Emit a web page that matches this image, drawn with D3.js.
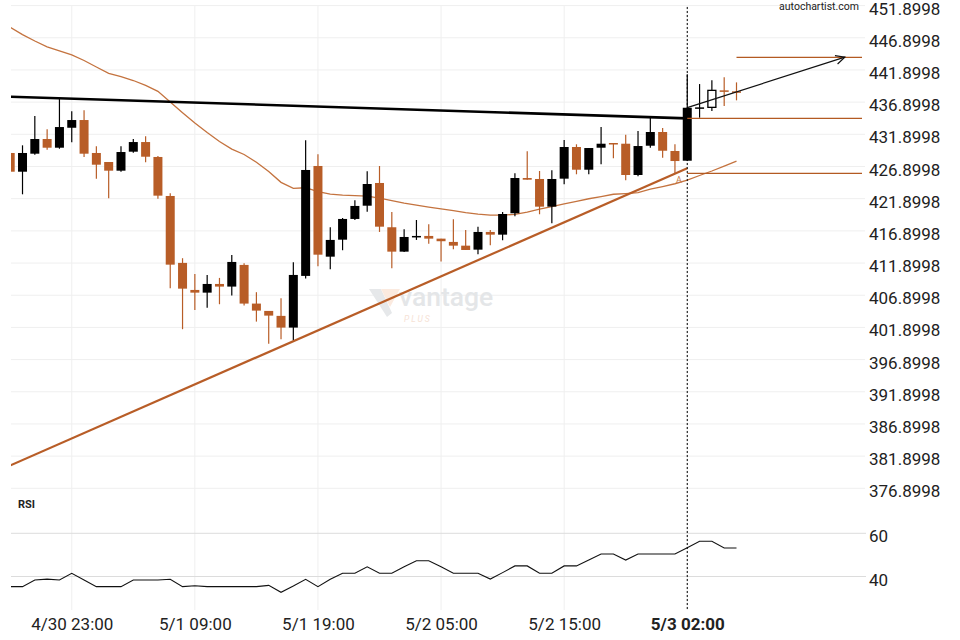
<!DOCTYPE html>
<html><head><meta charset="utf-8">
<script src="https://cdn.jsdelivr.net/npm/d3@7"></script>
<style>
html,body{margin:0;padding:0;background:#fff;}
svg{display:block;font-family:Roboto,"Noto Sans",sans-serif;}
</style></head><body>
<svg id="chart" width="960" height="640"></svg>
<script>
// ---- data (hourly candles, index 0..59) ----
const openP  = [429.00,426.09,428.89,431.17,429.82,432.92,434.12,429.00,427.60,426.25,
                429.20,430.70,428.38,422.32,411.92,407.72,407.30,408.65,408.24,411.61,
                405.60,404.46,403.69,401.87,409.90,426.98,412.89,415.53,418.75,420.81,
                424.34,417.46,413.67,415.95,416.11,415.69,415.18,414.60,413.98,416.73,
                416.31,419.63,425.11,424.96,420.66,425.01,429.93,426.40,429.82,430.55,
                430.44,425.58,430.13,432.26,429.31,427.80,436.03,436.09,438.73,438.58];
const highP  = [429.50,430.19,434.74,432.68,437.38,435.47,435.63,430.04,427.60,430.04,
                431.17,431.59,428.53,422.74,412.65,410.21,410.05,409.59,413.16,411.87,
                407.37,404.46,406.43,412.02,430.97,428.79,417.46,418.90,421.65,426.15,
                426.98,419.83,417.15,418.59,417.92,415.69,418.70,417.04,417.55,417.04,
                419.83,425.84,429.26,426.20,426.31,431.01,430.35,429.77,433.03,430.55,
                431.84,432.41,434.59,432.88,430.35,441.22,439.71,440.29,440.75,439.97];
const lowP   = [425.70,422.58,428.73,429.51,429.66,430.66,428.38,425.01,421.96,426.09,
                429.04,427.55,421.90,407.99,401.62,404.62,404.97,405.50,406.84,405.29,
                402.80,399.34,400.07,399.85,409.48,411.40,410.94,413.89,418.59,419.88,
                416.73,411.09,413.62,415.49,414.91,412.12,414.04,413.93,413.27,414.66,
                415.44,419.17,424.85,419.48,418.08,424.14,425.69,425.69,427.24,428.17,
                424.76,425.38,429.82,428.27,425.89,427.80,434.48,435.52,436.29,437.18];
const closeP = [426.09,429.00,431.17,429.82,433.03,434.12,428.89,427.18,426.25,429.15,
                430.70,428.42,422.37,411.65,407.92,407.30,408.65,408.24,412.07,405.60,
                404.51,403.73,401.87,410.05,426.36,413.20,415.49,418.75,420.77,424.18,
                417.55,413.67,415.95,416.11,415.69,415.29,414.60,413.93,416.73,416.31,
                419.52,425.11,424.85,420.66,424.96,429.93,426.40,429.77,430.44,430.39,
                425.58,430.08,432.26,429.35,427.75,436.03,436.09,438.73,438.51,438.47];
const maValues = [448.53,447.40,446.40,445.50,444.85,444.23,443.37,442.36,441.38,440.85,
                  440.26,439.49,438.58,436.92,435.26,433.66,432.18,430.78,429.61,428.76,
                  427.56,426.12,424.44,423.51,423.60,423.01,422.62,422.46,422.39,422.31,
                  422.00,421.61,421.22,420.91,420.60,420.33,420.05,419.74,419.51,419.36,
                  419.36,419.46,419.82,420.29,420.68,421.10,421.48,421.89,422.23,422.59,
                  422.70,422.85,423.37,423.79,424.22,424.80,425.50,426.20,426.97,427.75];
const rsiValues = [35.3,35.3,38.4,38.8,38.4,41.5,38.4,35.3,35.3,35.3,
                   38.4,38.4,38.4,38.7,35.3,35.7,35.3,35.3,35.3,35.3,
                   35.3,35.9,32.7,35.6,38.7,35.3,38.7,41.5,41.5,44.5,
                   41.5,41.5,44.5,47.3,47.3,44.5,41.5,41.5,41.5,38.8,
                   41.8,44.9,44.9,41.5,41.5,44.9,44.9,47.6,50.4,50.4,
                   47.6,50.4,50.4,50.4,50.4,53.3,56.3,56.3,53.2,53.2];
const priceTicks = [451.8998,446.8998,441.8998,436.8998,431.8998,426.8998,421.8998,416.8998,
                    411.8998,406.8998,401.8998,396.8998,391.8998,386.8998,381.8998,376.8998];
const rsiTicks = [60, 40];
const timeTickIndex  = [5, 15, 25, 35, 45, 55];
const timeTickLabels = ["4/30 23:00","5/1 09:00","5/1 19:00","5/2 05:00","5/2 15:00","5/3 02:00"];
const breakoutIndex = 55;
const resistanceLine = [[0, 437.75],[55, 434.38]];
const supportLine    = [[0, 380.45],[55, 426.62]];
const levelFrom  = [55, 55, 59];
const levelPrice = [434.38, 425.84, 443.87];
const forecastArrow = [[55, 436.04],[67.8, 443.90]];
const pointLabel = {text:"A", index:54.33, price:424.26};

// ---- layout ----
const left = 11, right = 863;
const ORANGE = "#b85d27";
const svg = d3.select("#chart");

const x = d3.scaleLinear().domain([0, 59]).range([10.2, 736.5]);
const y = d3.scaleLinear().domain([376.8998, 451.8998]).range([488.3, 5.6]);
const r = d3.scaleLinear().domain([40, 60]).range([576.5, 533.3]);

const defs = svg.append("defs");
defs.append("clipPath").attr("id","clipP").append("rect")
  .attr("x",left).attr("y",0).attr("width",right-left).attr("height",500);
defs.append("clipPath").attr("id","clipR").append("rect")
  .attr("x",left).attr("y",510).attr("width",right-left).attr("height",102);

// grid
const grid = svg.append("g");
grid.selectAll("line.h").data(priceTicks).join("line")
  .attr("x1",left).attr("x2",865).attr("y1",d=>y(d)).attr("y2",d=>y(d))
  .attr("stroke","#efefef").attr("stroke-width",1);
grid.selectAll("line.v").data(timeTickIndex).join("line")
  .attr("x1",d=>x(d)).attr("x2",d=>x(d)).attr("y1",6).attr("y2",610)
  .attr("stroke","#efefef").attr("stroke-width",1);
grid.selectAll("line.r").data(rsiTicks).join("line")
  .attr("x1",left).attr("x2",866).attr("y1",d=>r(d)).attr("y2",d=>r(d))
  .attr("stroke","#dcdcdc").attr("stroke-width",1);

// watermark
const wm = svg.append("g");
wm.append("path").attr("d","M369,289 L381,289 L392,313 L387,317 Z").attr("fill","#e6e8ea");
wm.append("path").attr("d","M381,289 L400,289 L390,307 Z").attr("fill","#fbeadf");
wm.append("text").attr("x",399).attr("y",305.5).attr("font-size",26.5).attr("font-weight",500)
  .attr("fill","#e4e6e8").text("vantage");
wm.append("text").attr("x",404).attr("y",321.5).attr("font-size",8.5).attr("font-style","italic")
  .attr("letter-spacing",2).attr("fill","#f6e2d5").text("PLUS");

// price layer
const pg = svg.append("g").attr("clip-path","url(#clipP)");
const idx = d3.range(openP.length);

pg.append("path").datum(maValues)
  .attr("d", d3.line().x((d,i)=>x(i)).y(d=>y(d)))
  .attr("fill","none").attr("stroke","#c4733f").attr("stroke-width",1.3);

// candles
const isUp = i => closeP[i] >= openP[i];
const isHollow = i => i > breakoutIndex && closeP[i] > openP[i] && Math.abs(y(closeP[i]) - y(openP[i])) > 3;
const cg = pg.append("g");
cg.selectAll("line.wick").data(idx).join("line")
  .attr("x1",i=>x(i)).attr("x2",i=>x(i))
  .attr("y1",i=>y(highP[i])).attr("y2",i=>y(lowP[i]))
  .attr("stroke",i=>isUp(i)?"#000":ORANGE).attr("stroke-width",1.2);
cg.selectAll("rect.body").data(idx).join("rect")
  .attr("x",i=>isHollow(i)? x(i)-4 : x(i)-4.5)
  .attr("width",i=>isHollow(i)? 8 : 9)
  .attr("y",i=>Math.min(y(openP[i]),y(closeP[i])))
  .attr("height",i=>Math.max(1.5, Math.abs(y(openP[i])-y(closeP[i]))))
  .attr("fill",i=>isHollow(i)? "#fff" : (isUp(i)? "#000" : ORANGE))
  .attr("stroke",i=>isHollow(i)? "#000" : "none")
  .attr("stroke-width",1.3);

// trend lines
const tl = d3.line().x(d=>x(d[0])).y(d=>y(d[1]));
pg.append("path").datum(supportLine).attr("d",tl).attr("fill","none")
  .attr("stroke",ORANGE).attr("stroke-width",2.2);
pg.append("path").datum(resistanceLine).attr("d",tl).attr("fill","none")
  .attr("stroke","#000").attr("stroke-width",2.6);

// level lines
pg.selectAll("line.lvl").data(levelPrice).join("line")
  .attr("x1",(d,i)=>x(levelFrom[i])).attr("x2",862)
  .attr("y1",d=>y(d)).attr("y2",d=>y(d))
  .attr("stroke","#b35a22").attr("stroke-width",1.3);

// forecast arrow
const a0 = [x(forecastArrow[0][0]), y(forecastArrow[0][1])];
const a1 = [x(forecastArrow[1][0]), y(forecastArrow[1][1])];
pg.append("line").attr("x1",a0[0]).attr("y1",a0[1]).attr("x2",a1[0]).attr("y2",a1[1])
  .attr("stroke","#111").attr("stroke-width",1.2);
const ang = Math.atan2(a1[1]-a0[1], a1[0]-a0[0]);
const hl = 10, ha = 0.45;
const p1 = [a1[0]-hl*Math.cos(ang-ha), a1[1]-hl*Math.sin(ang-ha)];
const p2 = [a1[0]-hl*Math.cos(ang+ha), a1[1]-hl*Math.sin(ang+ha)];
pg.append("path").attr("d",`M${p1[0]},${p1[1]} L${a1[0]},${a1[1]} L${p2[0]},${p2[1]}`)
  .attr("fill","none").attr("stroke","#111").attr("stroke-width",1.2);

// point label
pg.append("text").attr("x",x(pointLabel.index)).attr("y",y(pointLabel.price))
  .attr("text-anchor","middle").attr("font-size",9).attr("fill","#c57a4c").text(pointLabel.text);

// RSI
const rg = svg.append("g").attr("clip-path","url(#clipR)");
rg.append("path").datum(rsiValues)
  .attr("d", d3.line().x((d,i)=>x(i)).y(d=>r(d)))
  .attr("fill","none").attr("stroke","#111").attr("stroke-width",1.1);

// breakout vertical dotted line
svg.append("line").attr("x1",x(breakoutIndex)).attr("x2",x(breakoutIndex))
  .attr("y1",7).attr("y2",610).attr("stroke","#000").attr("stroke-width",1)
  .attr("stroke-dasharray","2,2");

// axes
const yAxis = svg.append("g").attr("transform","translate(869,0)")
  .call(d3.axisRight(y).tickValues(priceTicks).tickSize(0).tickPadding(0).tickFormat(d=>d.toFixed(4)));
const rAxis = svg.append("g").attr("transform","translate(869,0)")
  .call(d3.axisRight(r).tickValues(rsiTicks).tickSize(0).tickPadding(0).tickFormat(d3.format("d")));
const xAxis = svg.append("g").attr("transform","translate(0,618)")
  .call(d3.axisBottom(x).tickValues(timeTickIndex).tickSize(0).tickPadding(0)
    .tickFormat((d,i)=>timeTickLabels[i]));
[yAxis, rAxis, xAxis].forEach(g=>{
  g.select(".domain").remove();
  g.selectAll("text").attr("font-family","Roboto, sans-serif").attr("font-size",17).attr("fill","#222");
});
yAxis.selectAll("text").attr("dy","0.5em");
rAxis.selectAll("text").attr("dy","0.5em");
xAxis.selectAll("text").attr("dy","0.71em")
  .attr("font-weight",(d)=>d===breakoutIndex?"bold":"normal");

// labels
svg.append("text").attr("x",18).attr("y",508).attr("font-size",11).attr("font-weight","bold")
  .attr("fill","#222").text("RSI");
svg.append("text").attr("x",859).attr("y",10).attr("text-anchor","end").attr("font-size",10.5)
  .attr("fill","#222").text("autochartist.com");
</script>
</body></html>
